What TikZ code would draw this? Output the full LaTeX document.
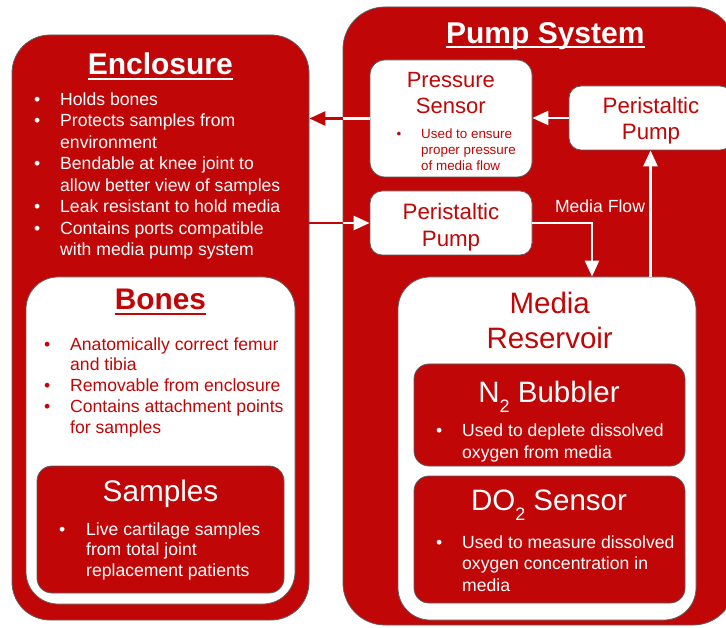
\documentclass[tikz,border=0pt]{standalone}
\usepackage{fontspec}
\setmainfont{Liberation Sans}
\usetikzlibrary{arrows.meta,calc}
\definecolor{dred}{RGB}{192,6,6}
\definecolor{edgegray}{RGB}{95,95,95}
\newcommand{\fsz}[2]{\fontsize{#1}{#2}\selectfont}
\newcommand{\myul}[1]{\setbox0\hbox{#1}\rlap{\vrule height -3pt depth 5pt width \wd0}\box0}
\newcommand{\bl}[1]{\llap{•\hspace{#1}}}
\begin{document}
\begin{tikzpicture}[x=1pt,y=-1pt,
  redbox/.style={draw=edgegray,line width=0.8pt,fill=dred,rounded corners=#1,inner sep=0pt},
  whitebox/.style={draw=edgegray,line width=0.8pt,fill=white,rounded corners=#1,inner sep=0pt},
  flowline/.style={line width=2.6pt},
  flow/.style={line width=2.6pt,-{Triangle[length=16pt,width=14pt]}},
  title/.style={anchor=base,inner sep=0pt,font=\fsz{30}{36}\bfseries},
  head/.style={anchor=base,inner sep=0pt},
  lst/.style={anchor=base west,align=left,inner sep=0pt}]
\useasboundingbox (0,0) rectangle (726,628);
% boxes
\node[redbox=38,minimum width=297pt,minimum height=585pt] (enc) at (160.5,327.5) {};
\node[whitebox=32,minimum width=269pt,minimum height=327pt] (bones) at (160.5,440.5) {};
\node[redbox=15,minimum width=247pt,minimum height=127pt] (samples) at (160.5,529.5) {};
\node[redbox=42,minimum width=392pt,minimum height=618pt] (pump) at (539,316) {};
\node[whitebox=15,minimum width=162pt,minimum height=117pt] (press) at (451,118.5) {};
\node[whitebox=12,minimum width=163pt,minimum height=64pt] (pp1) at (650.5,118) {};
\node[whitebox=12,minimum width=162pt,minimum height=64pt] (pp2) at (451,223) {};
\node[whitebox=32,minimum width=298pt,minimum height=343pt] (res) at (547,448.5) {};
\node[redbox=15,minimum width=271pt,minimum height=102pt] (n2) at (549.5,415) {};
\node[redbox=15,minimum width=271pt,minimum height=127pt] (do2) at (549.5,539.5) {};
% connectors
\draw[flow,dred] (press.west -| pump.west) -- (press.west -| enc.east);
\draw[flowline,white] (press.west) -- (press.west -| pump.west);
\draw[flowline,dred] (pp2.west -| enc.east) -- (pp2.west -| pump.west);
\draw[flow,white] (pp2.west -| pump.west) -- (pp2.west);
\draw[flow,white] (pp1.west) -- (pp1.west -| press.east);
\coordinate (resin) at ($(res.north)+(45,0)$);
\draw[flow,white] (pp2.east) -| (resin);
\draw[flow,white] (pp1.south |- res.north) -- (pp1.south);
\node[head,text=white,font=\fsz{17.6}{21}] (mflow) at (600,212.3) {Media Flow};
% enclosure texts (multi-line nodes: base = last line)
\node[title,text=white] (enct) at (160.3,75) {\myul{Enclosure}};
\node[lst,text=white,font=\fsz{17.6}{21.5}] (encl) at (60,255.6) {\bl{20pt}Holds bones\\\bl{20pt}Protects samples from\\environment\\\bl{20pt}Bendable at knee joint to\\allow better view of samples\\\bl{20pt}Leak resistant to hold media\\\bl{20pt}Contains ports compatible\\with media pump system};
\node[title,text=dred,font=\fsz{29.8}{36}\bfseries] (bonest) at (160.5,310) {\myul{Bones}};
\node[lst,text=dred,font=\fsz{17.6}{20.8}] (bonesl) at (70,433.3) {\bl{20pt}Anatomically correct femur\\and tibia\\\bl{20pt}Removable from enclosure\\\bl{20pt}Contains attachment points\\for samples};
\node[head,text=white,font=\fsz{29.7}{36}] (samplest) at (160.5,501.7) {Samples};
\node[lst,text=white,font=\fsz{17.6}{20.8}] (samplesl) at (86,576.7) {\bl{21pt}Live cartilage samples\\from total joint\\replacement patients};
% pump texts
\node[title,text=white] (pumpt) at (545.3,43.3) {\myul{Pump System}};
\node[head,text=dred,font=\fsz{22}{26}] (presst1) at (450.8,87.3) {Pressure};
\node[head,text=dred,font=\fsz{22}{26}] (presst2) at (450.8,113.3) {Sensor};
\node[lst,text=dred,font=\fsz{13.4}{16}] (pressl) at (421,170.3) {\bl{20pt}Used to ensure\\proper pressure\\of media flow};
\node[head,text=dred,font=\fsz{22.3}{26}] (pp1t1) at (651,113.3) {Peristaltic};
\node[head,text=dred,font=\fsz{22.3}{26}] (pp1t2) at (651,140) {Pump};
\node[head,text=dred,font=\fsz{22.3}{26}] (pp2t1) at (451,220) {Peristaltic};
\node[head,text=dred,font=\fsz{22.3}{26}] (pp2t2) at (451,246.7) {Pump};
\node[head,text=dred,font=\fsz{29.5}{36}] (rest1) at (549.7,313.3) {Media};
\node[head,text=dred,font=\fsz{29.5}{36}] (rest2) at (549.7,348.3) {Reservoir};
\node[head,text=white,font=\fsz{29.5}{36}] (n2t) at (549,402.7) {N\raisebox{-10pt}{\fsz{18}{18}2} Bubbler};
\node[lst,text=white,font=\fsz{17.6}{21.3}] (n2l) at (462,458) {\bl{20pt}Used to deplete dissolved\\oxygen from media};
\node[head,text=white,font=\fsz{29.5}{36}] (do2t) at (549,510.7) {DO\raisebox{-10pt}{\fsz{18}{18}2} Sensor};
\node[lst,text=white,font=\fsz{17.6}{21.6}] (do2l) at (462,591.5) {\bl{20pt}Used to measure dissolved\\oxygen concentration in\\media};
\end{tikzpicture}
\end{document}
